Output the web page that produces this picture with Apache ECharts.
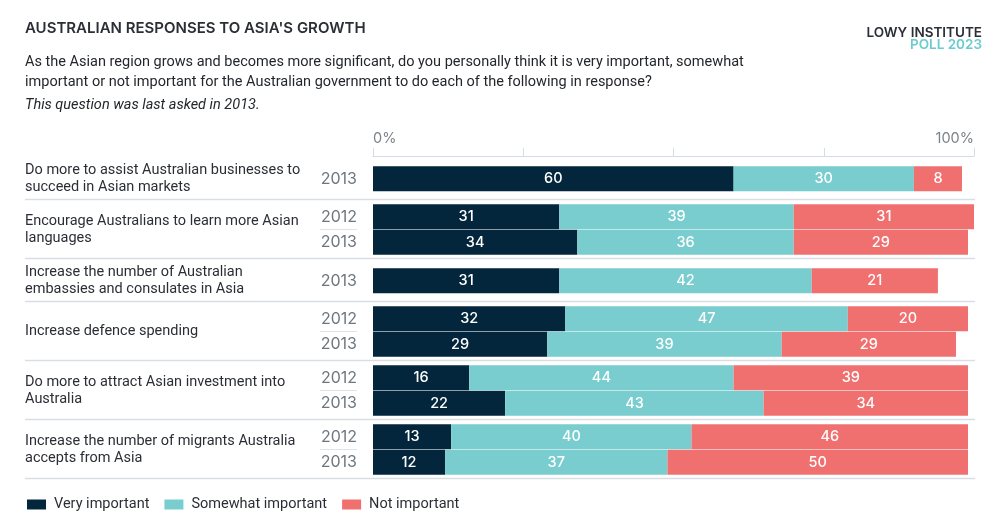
<!DOCTYPE html>
<html><head><meta charset="utf-8">
<script src="https://cdn.jsdelivr.net/npm/echarts@6/dist/echarts.min.js"></script>
<style>html,body{margin:0;padding:0;background:#fff}#c{width:1000px;height:525px}</style>
</head><body><div id="c"></div>
<script>
// ---- data ----
const categories = [
  "Do more to assist Australian businesses to\nsucceed in Asian markets",
  "Encourage Australians to learn more Asian\nlanguages",
  "Increase the number of Australian\nembassies and consulates in Asia",
  "Increase defence spending",
  "Do more to attract Asian investment into\nAustralia",
  "Increase the number of migrants Australia\naccepts from Asia"
];
const years = [["2013"], ["2012","2013"], ["2013"], ["2012","2013"], ["2012","2013"], ["2012","2013"]];
const veryImportant     = [[60], [31,34], [31], [32,29], [16,22], [13,12]];
const somewhatImportant = [[30], [39,36], [42], [47,39], [44,43], [40,37]];
const notImportant      = [[8],  [31,29], [21], [20,29], [39,34], [46,50]];
const seriesNames = ["Very important", "Somewhat important", "Not important"];
const axisTickLabels = {0: "0%", 100: "100%"};

// ---- layout / style ----
const FONT = "Roboto, 'Noto Sans', sans-serif";
const HFONT = "Inter, 'Noto Sans', sans-serif";
const colors = ["#03263c", "#79cdcf", "#f07070"];
const gridTops = [166, 204, 268, 306, 365, 424];
const ROW = 25.5, BAR = 25;
const sepYs = [199.5, 258.5, 301.5, 360.5, 419.5, 478.5];
const valueSets = [veryImportant, somewhatImportant, notImportant];

const grids = [], xAxes = [], yAxes = [], series = [], graphics = [];
categories.forEach((cat, g) => {
  const n = years[g].length;
  grids.push({left: 373, right: 26, top: gridTops[g], height: n * ROW});
  xAxes.push({
    gridIndex: g, type: 'value', min: 0, max: 100, interval: 25,
    show: g === 0, position: 'top', offset: 10,
    axisLine: {show: true, lineStyle: {color: '#d5dbe2', width: 1}},
    axisTick: {show: true, length: 8, lineStyle: {color: '#d5dbe2'}},
    splitLine: {show: false},
    axisLabel: {
      show: true, margin: 10, color: '#7b828a', fontSize: 14.5, fontFamily: HFONT,
      formatter: v => axisTickLabels[v] || '',
      alignMinLabel: 'left', alignMaxLabel: 'right'
    }
  });
  yAxes.push({
    gridIndex: g, type: 'category', data: years[g], inverse: true,
    axisLine: {show: false}, axisTick: {show: false},
    axisLabel: {color: '#6e7780', fontSize: 16, fontFamily: HFONT, margin: 16}
  });
  valueSets.forEach((vals, k) => {
    series.push({
      name: seriesNames[k], type: 'bar', stack: 'g' + g,
      xAxisIndex: g, yAxisIndex: g, barWidth: BAR,
      itemStyle: {color: colors[k]},
      label: {show: true, position: 'inside', color: '#fff', fontSize: 14.5, fontFamily: HFONT, fontWeight: 500, formatter: '{c}'},
      emphasis: {disabled: true},
      data: vals[g]
    });
  });
  graphics.push({
    type: 'text', left: 25, top: gridTops[g] + n * ROW / 2 - (cat.split('\n').length * 17) / 2,
    style: {text: cat, fill: '#2b2f35', font: '14.5px ' + FONT, lineHeight: 17}
  });
  if (n === 2) {
    const y = gridTops[g] + ROW;
    graphics.push({type: 'line', shape: {x1: 320, y1: y, x2: 357, y2: y}, style: {stroke: '#dfe3e8', lineWidth: 1}});
  }
});
sepYs.forEach(y => graphics.push({type: 'line', shape: {x1: 25, y1: y, x2: 975, y2: y}, style: {stroke: '#d9dee4', lineWidth: 1.5}}));

graphics.push(
  {type: 'text', left: 25, top: 21, style: {text: "AUSTRALIAN RESPONSES TO ASIA'S GROWTH", fill: '#2b2f35', font: '600 15px ' + HFONT}},
  {type: 'text', left: 25, top: 52, style: {text: "As the Asian region grows and becomes more significant, do you personally think it is very important, somewhat\nimportant or not important for the Australian government to do each of the following in response?", fill: '#23272c', font: '14.5px ' + FONT, lineHeight: 20.5}},
  {type: 'text', left: 25, top: 98, style: {text: "This question was last asked in 2013.", fill: '#23272c', font: 'italic 14.5px ' + FONT}},
  {type: 'text', right: 18, top: 26, style: {text: "LOWY INSTITUTE", fill: '#2a2f36', font: '600 13.5px ' + HFONT, align: 'right'}},
  {type: 'text', right: 18, top: 38, style: {text: "POLL 2023", fill: '#6ccbd0', font: '600 13.5px ' + HFONT, align: 'right'}}
);

const chart = echarts.init(document.getElementById('c'), null, {renderer: 'canvas'});
chart.setOption({
  animation: false,
  backgroundColor: '#fff',
  grid: grids, xAxis: xAxes, yAxis: yAxes, series: series,
  legend: {
    data: seriesNames, left: 22, top: 492, icon: 'rect', itemWidth: 19, itemHeight: 10, itemGap: 15,
    textStyle: {color: '#2b2f35', fontSize: 14.5, fontFamily: FONT, padding: [0, 0, 0, 3]},
    selectedMode: false
  },
  graphic: graphics
});
</script></body></html>
